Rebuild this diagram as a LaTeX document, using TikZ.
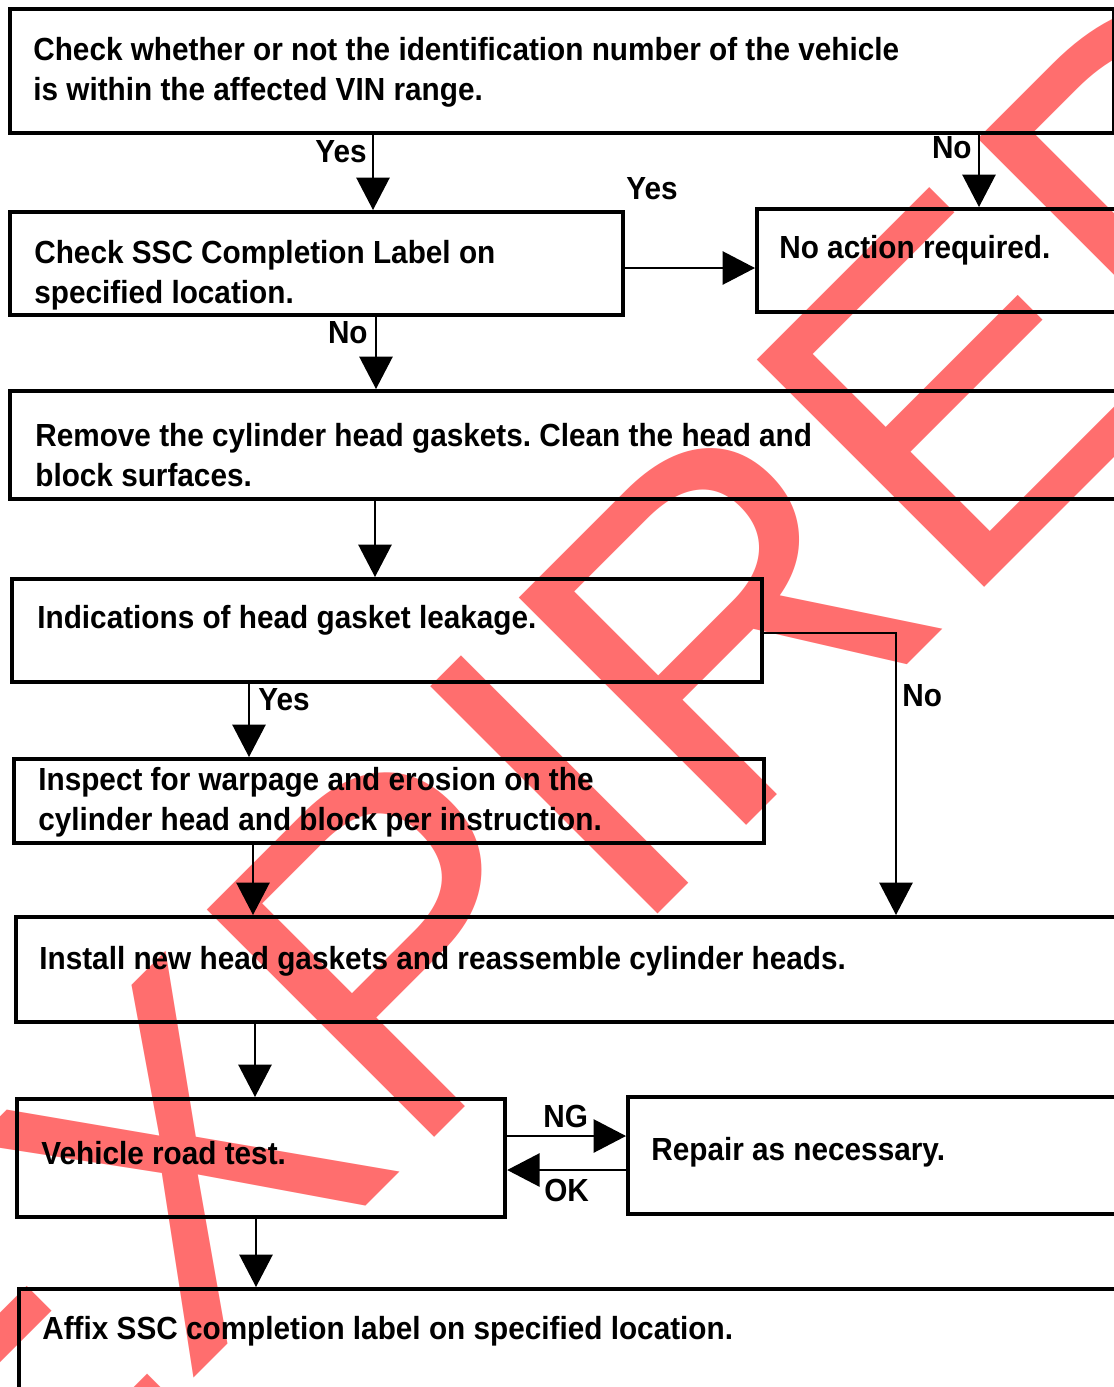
\documentclass[tikz,border=0pt]{standalone}
\usepackage{fontspec}
\setmainfont{Liberation Sans}
\newfontfamily\wmfont{Liberation Sans}
\newfontfamily\txtfont{Liberation Sans Bold}[FakeStretch=0.93]
\usetikzlibrary{arrows.meta}
\definecolor{wm}{RGB}{255,110,110}
\newcommand\twoln[2]{\vtop{\hbox{#1}\hbox{#2}}}
\frenchspacing
\begin{document}
\begin{tikzpicture}[x=0.02cm,y=-0.02cm,
  box/.style={draw,line width=2.4pt,inner sep=0,anchor=north west},
  txt/.style={font=\txtfont\fontsize{18.2pt}{22.8pt}\selectfont,inner sep=0,anchor=base west},
  lblw/.style={txt,anchor=base west},
  lble/.style={txt,anchor=base east},
  arr/.style={line width=1pt,-{Triangle[length=18.5pt,width=19pt]}},
  wmark/.style={font=\wmfont\fontsize{266pt}{266pt}\selectfont,text=wm,rotate=45,anchor=base west,inner sep=0}]
\clip (0,0) rectangle (1114,1387);
\fill[white] (0,0) rectangle (1114,1387);
% watermark
\node[wmark] (wm) at (-34,1606) {EXPIRED};
% boxes
\node[box,minimum width=1104*0.02cm,minimum height=124*0.02cm] (b1) at (8,7) {};
\node[box,minimum width=613*0.02cm,minimum height=103*0.02cm] (b2) at (8,210) {};
\node[box,minimum width=420*0.02cm,minimum height=103*0.02cm] (b3) at (755,207) {};
\node[box,minimum width=1150*0.02cm,minimum height=108*0.02cm] (b4) at (8,389) {};
\node[box,minimum width=750*0.02cm,minimum height=103*0.02cm] (b5) at (10,577) {};
\node[box,minimum width=750*0.02cm,minimum height=84*0.02cm] (b6) at (12,757) {};
\node[box,minimum width=1150*0.02cm,minimum height=105*0.02cm] (b7) at (14,915) {};
\node[box,minimum width=488*0.02cm,minimum height=118*0.02cm] (b8) at (15,1097) {};
\node[box,minimum width=520*0.02cm,minimum height=117*0.02cm] (b9) at (626,1095) {};
\node[box,minimum width=1150*0.02cm,minimum height=140*0.02cm] (b10) at (17,1287) {};
% texts
\node[txt] (t1) at (33,60) {\twoln{Check whether or not the identification number of the vehicle}{is within the affected VIN range.}};
\node[txt] (t2) at (34,263) {\twoln{Check SSC Completion Label on}{specified location.}};
\node[txt] (t3) at (779,258) {No action required.};
\node[txt] (t4) at (35,446) {\twoln{Remove the cylinder head gaskets. Clean the head and}{block surfaces.}};
\node[txt] (t5) at (37,628) {Indications of head gasket leakage.};
\node[txt] (t6) at (38,790) {\twoln{Inspect for warpage and erosion on the}{cylinder head and block per instruction.}};
\node[txt] (t7) at (39,969) {Install new head gaskets and reassemble cylinder heads.};
\node[txt] (t8) at (41,1164) {Vehicle road test.};
\node[txt] (t9) at (651,1160) {Repair as necessary.};
\node[txt] (t10) at (42,1339) {Affix SSC completion label on specified location.};
% connector coordinates
\coordinate (cx1) at (373,0);
\coordinate (cx2) at (979,0);
\coordinate (cy1) at (0,268);
\coordinate (cx3) at (376,0);
\coordinate (cx4) at (375,0);
\coordinate (cy2) at (0,633);
\coordinate (cx5) at (896,0);
\coordinate (cx6) at (249,0);
\coordinate (cx7) at (253,0);
\coordinate (cx8) at (255,0);
\coordinate (cy3) at (0,1136);
\coordinate (cy4) at (0,1170);
\coordinate (cx9) at (256,0);
% connectors
\draw[arr] (b1.south -| cx1) -- (b2.north -| cx1);
\draw[arr] (b1.south -| cx2) -- (b3.north -| cx2);
\draw[arr] (b2.east |- cy1) -- (b3.west |- cy1);
\draw[arr] (b2.south -| cx3) -- (b4.north -| cx3);
\draw[arr] (b4.south -| cx4) -- (b5.north -| cx4);
\draw[arr] (b5.east |- cy2) -| (b7.north -| cx5);
\draw[arr] (b5.south -| cx6) -- (b6.north -| cx6);
\draw[arr] (b6.south -| cx7) -- (b7.north -| cx7);
\draw[arr] (b7.south -| cx8) -- (b8.north -| cx8);
\draw[arr] (b8.east |- cy3) -- (b9.west |- cy3);
\draw[arr] (b9.west |- cy4) -- (b8.east |- cy4);
\draw[arr] (b8.south -| cx9) -- (b10.north -| cx9);
% labels
\node[lble] (l1) at (367,162) {Yes};
\node[lble] (l2) at (972,158) {No};
\node[lblw] (l3) at (626,199) {Yes};
\node[lble] (l4) at (368,343) {No};
\node[lblw] (l5) at (902,706) {No};
\node[lblw] (l6) at (258,710) {Yes};
\node[lblw] (l7) at (543,1127) {NG};
\node[lblw] (l8) at (544,1201) {OK};
\end{tikzpicture}
\end{document}
